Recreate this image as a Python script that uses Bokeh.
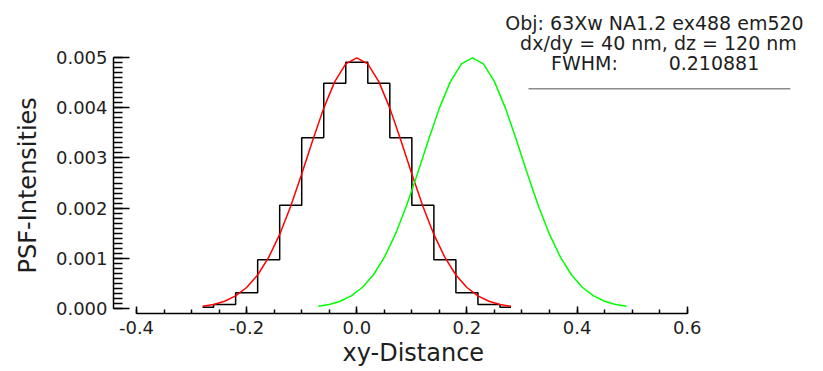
import math
from bokeh.plotting import figure
from bokeh.models import Range1d, SingleIntervalTicker, PrintfTickFormatter, Label, Title
from bokeh.embed import file_html
from bokeh.resources import INLINE

# ---------------- data ----------------
step_x = [-0.28, -0.24, -0.20, -0.16, -0.12, -0.08, -0.04, 0.00,
          0.04, 0.08, 0.12, 0.16, 0.20, 0.24, 0.28]
step_y = [0.000020, 0.000074, 0.000307, 0.000966, 0.002057, 0.003403, 0.004493, 0.004910,
          0.004493, 0.003403, 0.002057, 0.000966, 0.000307, 0.000074, 0.000020]

red_x = [-0.28, -0.26, -0.24, -0.22, -0.20, -0.18, -0.16, -0.14, -0.12, -0.10,
         -0.08, -0.06, -0.04, -0.02, 0.00, 0.02, 0.04, 0.06, 0.08, 0.10,
         0.12, 0.14, 0.16, 0.18, 0.20, 0.22, 0.24, 0.26, 0.28]
red_y = [0.000038, 0.000074, 0.000138, 0.000245, 0.000413, 0.000663, 0.001014, 0.001473,
         0.002037, 0.002680, 0.003355, 0.003995, 0.004525, 0.004877, 0.005000, 0.004877,
         0.004525, 0.003995, 0.003355, 0.002680, 0.002037, 0.001473, 0.001014, 0.000663,
         0.000413, 0.000245, 0.000138, 0.000074, 0.000038]

green_x = [-0.07, -0.05, -0.03, -0.01, 0.01, 0.03, 0.05, 0.07, 0.09, 0.11,
           0.13, 0.15, 0.17, 0.19, 0.21, 0.23, 0.25, 0.27, 0.29, 0.31,
           0.33, 0.35, 0.37, 0.39, 0.41, 0.43, 0.45, 0.47, 0.49]
green_y = [0.000038, 0.000074, 0.000138, 0.000245, 0.000413, 0.000663, 0.001014, 0.001473,
           0.002037, 0.002680, 0.003355, 0.003995, 0.004525, 0.004877, 0.005000, 0.004877,
           0.004525, 0.003995, 0.003355, 0.002680, 0.002037, 0.001473, 0.001014, 0.000663,
           0.000413, 0.000245, 0.000138, 0.000074, 0.000038]

info_line1 = "Obj: 63Xw NA1.2 ex488 em520"
info_line2 = "dx/dy = 40 nm, dz = 120 nm"
fwhm_label = "FWHM:"
fwhm_value = "0.210881"
x_title = "xy-Distance"
y_title = "PSF-Intensities"

# ---------------- figure ----------------
FONT = "DejaVu Sans"
TXT = "#1e1e1e"

p = figure(width=823, height=371,
           x_range=Range1d(-0.441765, 0.847505),
           y_range=Range1d(-0.00010583, 0.00614417),
           output_backend="svg", toolbar_location=None,
           min_border_left=113, min_border_right=0,
           min_border_top=0, min_border_bottom=58)
p.outline_line_color = None
p.grid.visible = False
p.background_fill_color = "white"
p.border_fill_color = "white"

p.step(step_x, step_y, mode="center", line_color="black", line_width=1.5)
p.line(red_x, red_y, line_color="#ff0000", line_width=1.5)
p.line(green_x, green_y, line_color="#00ff00", line_width=1.5)

# decorative rule under the info text
p.segment(x0=[0.3118], y0=[0.004381], x1=[0.7873], y1=[0.004381],
          line_color="#8c8c8c", line_width=1.5)

# axes
xa = p.xaxis[0]
xa.ticker = SingleIntervalTicker(interval=0.2, num_minor_ticks=4)
xa.bounds = (-0.4001, 0.6001)
xa.formatter = PrintfTickFormatter(format="%.1f")
xa.major_tick_in = 7
xa.major_tick_out = 0
xa.minor_tick_in = 4
xa.minor_tick_out = 0
xa.major_label_standoff = 7

ya = p.yaxis[0]
ya.ticker = SingleIntervalTicker(interval=0.001, num_minor_ticks=10)
ya.bounds = (-0.00000001, 0.00500001)
ya.formatter = PrintfTickFormatter(format="%.3f")
ya.major_tick_in = 16
ya.major_tick_out = 0
ya.minor_tick_in = 9
ya.minor_tick_out = 0
ya.major_label_standoff = 6

for ax in (xa, ya):
    ax.axis_line_color = "black"
    ax.axis_line_width = 1.5
    ax.major_tick_line_color = "black"
    ax.major_tick_line_width = 1.5
    ax.minor_tick_line_color = "black"
    ax.minor_tick_line_width = 1.5
    ax.major_label_text_font = FONT
    ax.major_label_text_font_size = "18px"
    ax.major_label_text_color = TXT

# axis titles as side titles (so they can be centred on the axis extent)
p.add_layout(Title(text=x_title, align="left", offset=229, standoff=0,
                   text_font=FONT, text_font_size="24px",
                   text_font_style="normal", text_color=TXT), "below")
p.add_layout(Title(text=y_title, align="left", offset=40, standoff=21,
                   vertical_align="bottom",
                   text_font=FONT, text_font_size="24px",
                   text_font_style="normal", text_color=TXT), "left")

# info text
for tx, ty, t in [(0.5406, 0.005685, info_line1),
                  (0.5478, 0.005296, info_line2),
                  (0.4135, 0.004906, fwhm_label),
                  (0.6486, 0.004906, fwhm_value)]:
    p.add_layout(Label(x=tx, y=ty, text=t, text_align="center",
                       text_baseline="alphabetic", text_font=FONT,
                       text_font_size="19px", text_color=TXT))

open("out.html", "w").write(file_html(p, INLINE))
